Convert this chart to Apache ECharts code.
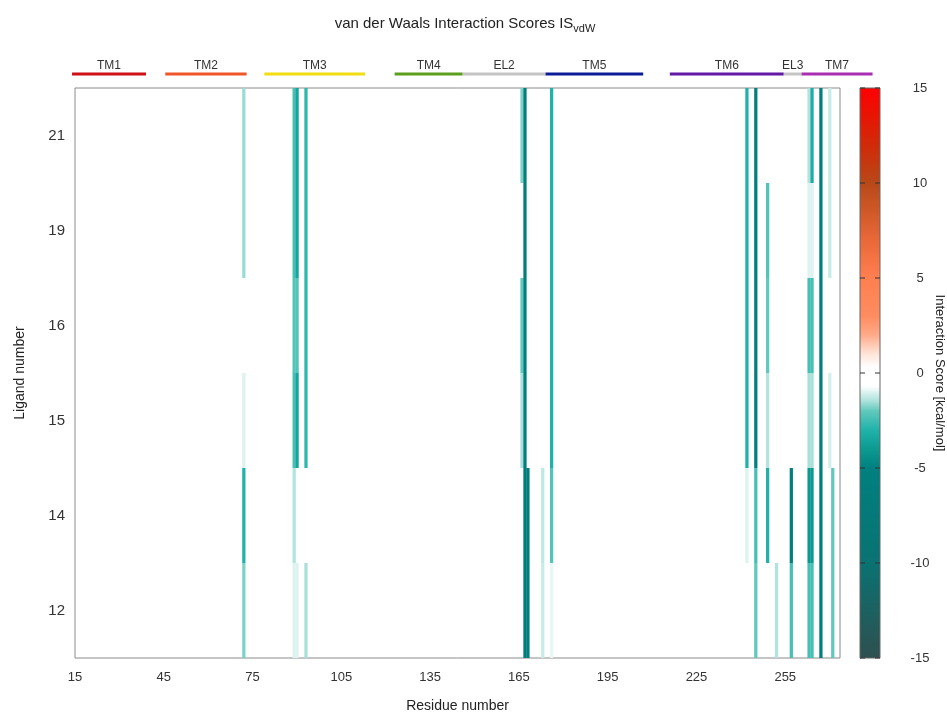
<!DOCTYPE html>
<html><head><meta charset="utf-8">
<script src="https://cdn.jsdelivr.net/npm/echarts@6/dist/echarts.min.js"></script>
<style>html,body{margin:0;padding:0;background:#fff}#c{width:947px;height:717px}</style>
</head><body><div id="c"></div>
<script>
// ---- data ----
const ligands = ['12', '14', '15', '16', '19', '21'];
const residues = [72, 89, 90, 93, 166, 167, 168, 173, 176, 242, 245, 249, 252, 257, 263, 264, 267, 270, 271];
const score21 = [-1.6, -2.4, -3.5, -2.8, -1.8, -5.5, 0, 0, -3.0, -3.0, -5.5, 0, 0, 0, -1.4, -3.2, -5.5, -1.2, 0];
const score19 = [-1.6, -2.4, -3.5, -2.8, 0, -5.5, 0, 0, -3.0, -3.0, -5.5, -2.2, 0, 0, -1.0, -1.0, -5.5, -1.2, 0];
const score16 = [0, -2.2, -2.2, -2.8, -2.0, -5.5, 0, 0, -3.0, -3.0, -5.5, -2.0, 0, 0, -2.4, -2.4, -5.5, 0, 0];
const score15 = [-1.0, -2.4, -3.5, -2.8, -1.5, -5.5, 0, 0, -3.0, -3.0, -5.5, -1.4, 0, 0, -1.5, -1.5, -5.5, -1.1, 0];
const score14 = [-3.0, -1.4, 0, 0, 0, -6.0, -6.0, -1.3, -2.2, -1.0, -2.4, -3.0, 0, -5.5, -4.0, -4.0, -5.5, 0, -2.0];
const score12 = [-1.8, -1.0, -1.0, -1.5, 0, -6.0, -6.0, -1.2, -0.9, 0, -2.0, 0, -1.4, -2.4, -2.4, -2.4, -5.5, 0, -2.0];

const segNames = ['TM1', 'TM2', 'TM3', 'TM4', 'EL2', 'TM5', 'TM6', 'EL3', 'TM7'];
const segStart = [14, 45.5, 79, 123, 146, 174, 216, 254.5, 260.5];
const segEnd   = [39, 73, 113, 146, 174, 207, 254.5, 260.5, 284.5];
const segColors = ['#cc1016', '#f0562a', '#f2de10', '#5c9e1e', '#c4c4c4', '#0c1c96', '#6418a6', '#c4c4c4', '#a92eb2'];

const cbMin = -15, cbMax = 15;
const cbTicks = [-15, -10, -5, 0, 5, 10, 15];

// colour palette stops (value, colour)
const paletteStops = [
  [-15, '#2f4f4f'], [-10, '#0a7272'], [-5, '#008080'], [-4, '#0c9a90'], [-3, '#20b2aa'],
  [-2, '#60c8bc'], [-1.5, '#a8e0da'], [-1.0, '#dcf3f0'], [-0.7, '#ffffff'], [0.3, '#ffffff'],
  [1, '#ffe4d8'], [2, '#ffaa88'], [3, '#ff8c60'], [5, '#ff7f50'], [7, '#e86838'],
  [10, '#b84818'], [12, '#d02a08'], [15, '#ff0000']
];

// ---- build ----
const scoresByLigand = { '12': score12, '14': score14, '15': score15, '16': score16, '19': score19, '21': score21 };
const cells = [];
ligands.forEach((lig, li) => {
  scoresByLigand[lig].forEach((v, i) => { if (v !== 0) cells.push([residues[i], li, v]); });
});

function hex2rgb(h) { return [parseInt(h.substr(1, 2), 16), parseInt(h.substr(3, 2), 16), parseInt(h.substr(5, 2), 16)]; }
function paletteAt(v) {
  for (let k = 0; k < paletteStops.length - 1; k++) {
    const a = paletteStops[k], b = paletteStops[k + 1];
    if (v >= a[0] && v <= b[0]) {
      const t = (v - a[0]) / (b[0] - a[0]);
      const ca = hex2rgb(a[1]), cb = hex2rgb(b[1]);
      return 'rgb(' + ca.map((c, j) => Math.round(c + (cb[j] - c) * t)).join(',') + ')';
    }
  }
  return paletteStops[paletteStops.length - 1][1];
}
const paletteColors = [];
for (let k = 0; k <= 240; k++) paletteColors.push(paletteAt(cbMin + k * (cbMax - cbMin) / 240));

const FONT = 'Liberation Sans, Arial, sans-serif';
const chart = echarts.init(document.getElementById('c'));
chart.setOption({
  backgroundColor: '#ffffff',
  animation: false,
  title: {
    text: '{a|van der Waals Interaction Scores IS}{b|vdW}',
    left: 460, top: 9, textAlign: 'center',
    textStyle: {
      fontWeight: 'normal',
      rich: {
        a: { fontSize: 15, fontFamily: FONT, color: '#222', lineHeight: 20, fontWeight: 'normal' },
        b: { fontSize: 11, fontFamily: FONT, color: '#222', lineHeight: 20, padding: [10, 0, 0, 0], fontWeight: 'normal' }
      }
    }
  },
  grid: [
    { left: 75, top: 88, width: 765, height: 570, show: true, borderColor: '#8a8a8a', borderWidth: 1, backgroundColor: '#fff', outerBoundsMode: 'none', containLabel: false },
    { left: 860, top: 88, width: 20, height: 570, show: false, outerBoundsMode: 'none', containLabel: false }
  ],
  xAxis: [
    {
      type: 'value', gridIndex: 0, min: 15, max: 273.5, interval: 30,
      axisLine: { show: false }, axisTick: { show: false }, splitLine: { show: false },
      axisLabel: { fontSize: 13, color: '#333', margin: 13, fontFamily: FONT, showMaxLabel: false },
      name: 'Residue number', nameLocation: 'middle', nameGap: 41,
      nameTextStyle: { fontSize: 14, color: '#222', fontFamily: FONT }
    },
    { type: 'value', gridIndex: 1, min: 0, max: 1, show: false }
  ],
  yAxis: [
    {
      type: 'category', gridIndex: 0, data: ligands,
      axisLine: { show: false }, axisTick: { show: false }, splitLine: { show: false },
      axisLabel: { fontSize: 15, color: '#333', margin: 10, fontFamily: FONT },
      name: 'Ligand number', nameLocation: 'middle', nameGap: 48,
      nameTextStyle: { fontSize: 14, color: '#222', fontFamily: FONT }
    },
    {
      type: 'value', gridIndex: 1, min: cbMin, max: cbMax, interval: 5, position: 'right',
      axisLine: { show: false }, axisTick: { show: false }, splitLine: { show: false },
      axisLabel: { fontSize: 13, color: '#333', margin: 40, align: 'center', fontFamily: FONT },
      name: 'Interaction Score [kcal/mol]', nameLocation: 'middle', nameRotate: -90, nameGap: 53,
      nameTextStyle: { fontSize: 13, color: '#222', fontFamily: FONT }
    }
  ],
  visualMap: {
    type: 'continuous', seriesIndex: 0, dimension: 2, min: cbMin, max: cbMax, show: false,
    inRange: { color: paletteColors }
  },
  series: [
    {
      type: 'custom', xAxisIndex: 0, yAxisIndex: 0, clip: true,
      data: cells,
      encode: { x: 0, y: 1 },
      renderItem: function (params, api) {
        const p = api.coord([api.value(0) - 0.5, api.value(1)]);
        const s = api.size([1, 1]);
        return {
          type: 'rect',
          shape: { x: p[0], y: p[1] - s[1] / 2, width: s[0] + 0.3, height: s[1] },
          style: { fill: api.visual('color') }
        };
      }
    },
    {
      type: 'custom', xAxisIndex: 0, yAxisIndex: 0, clip: false, silent: true,
      data: segNames.map((n, i) => [segStart[i], segEnd[i], i]),
      encode: { x: [0, 1] },
      renderItem: function (params, api) {
        const i = api.value(2);
        const a = api.coord([api.value(0), 0]);
        const b = api.coord([api.value(1), 0]);
        const top = params.coordSys.y;
        return {
          type: 'group', children: [
            { type: 'line', shape: { x1: a[0], y1: top - 14, x2: b[0], y2: top - 14 }, style: { stroke: segColors[i], lineWidth: 3 } },
            { type: 'text', style: { text: segNames[i], x: (a[0] + b[0]) / 2, y: top - 22, align: 'center', verticalAlign: 'middle', fill: '#333', font: '12px ' + FONT } }
          ]
        };
      }
    },
    {
      type: 'custom', xAxisIndex: 1, yAxisIndex: 1, clip: false, silent: true,
      data: [[0, cbMin, cbMax]],
      encode: { x: 0, y: [1, 2] },
      renderItem: function (params, api) {
        const cs = params.coordSys;
        const yLo = api.coord([0, api.value(1)])[1];
        const yHi = api.coord([0, api.value(2)])[1];
        const xL = cs.x, xR = cs.x + cs.width;
        const n = paletteColors.length;
        const grad = new echarts.graphic.LinearGradient(0, 1, 0, 0,
          paletteColors.map((c, k) => ({ offset: k / (n - 1), color: c })));
        const children = [{
          type: 'rect',
          shape: { x: xL, y: yHi, width: xR - xL, height: yLo - yHi },
          style: { fill: grad, stroke: '#666', lineWidth: 1 }
        }];
        cbTicks.forEach(t => {
          const q = api.coord([0, t]);
          children.push({ type: 'line', shape: { x1: xL, y1: q[1], x2: xL + 5, y2: q[1] }, style: { stroke: '#333', lineWidth: 1 } });
          children.push({ type: 'line', shape: { x1: xR - 5, y1: q[1], x2: xR, y2: q[1] }, style: { stroke: '#333', lineWidth: 1 } });
        });
        return { type: 'group', children: children };
      }
    }
  ]
});
</script></body></html>
